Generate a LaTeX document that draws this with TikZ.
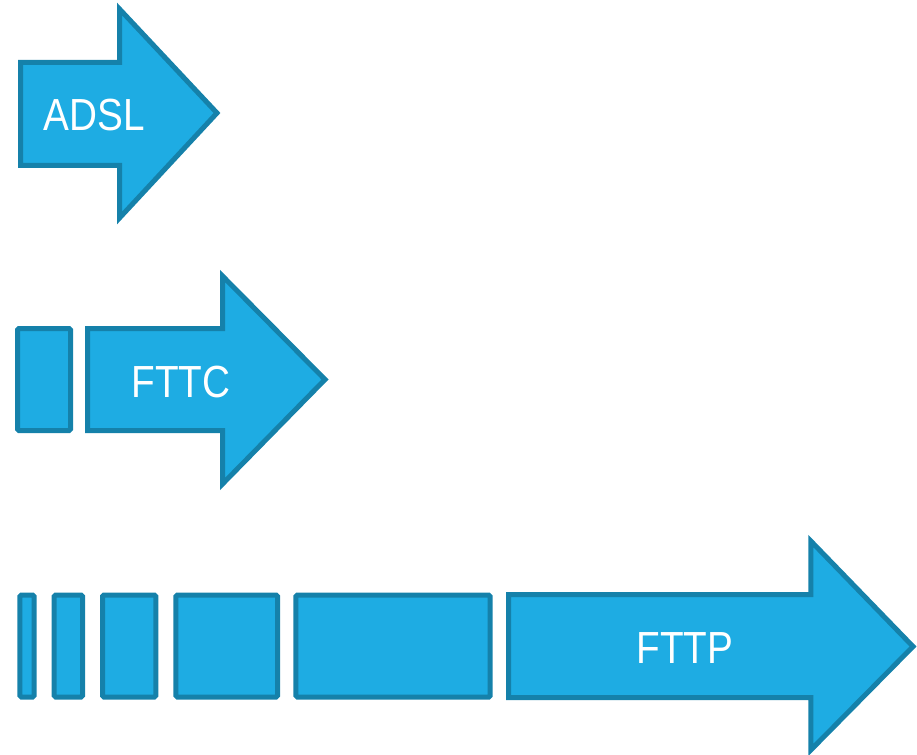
\documentclass[tikz,border=0pt]{standalone}
\usepackage{fontspec}
\setmainfont{Liberation Sans}
\usepackage{tikz}
\definecolor{linkfill}{RGB}{30, 172, 227}
\definecolor{linkedge}{RGB}{21, 129, 170}
% narrower lettering for the labels
\newcommand{\narrowtext}[1]{\scalebox{0.86}[1]{#1}}

\begin{document}
\begin{tikzpicture}[x=1pt, y=-1pt,
        % Shared look of every block and arrow
        block/.style={draw=linkedge, fill=linkfill, line width=5pt, rounded corners=1.5pt},
        arrowbody/.style={draw=linkedge, fill=linkfill, line width=5pt, line join=miter},
        label/.style={text=white, font=\fontsize{45}{45}\selectfont, inner sep=0pt}
    ]
    \useasboundingbox (0, 0) rectangle (917, 754);

    % ADSL: a single arrow
    \filldraw[arrowbody] (20.5, 62.5) -- (119.5, 62.5) -- (119.5, 9) -- (217, 113)
        -- (119.5, 218) -- (119.5, 165.5) -- (20.5, 165.5) -- cycle;
    \node[label] (adsl) at (94, 115) {\narrowtext{ADSL}};

    % FTTC: one block ahead of the arrow
    \filldraw[block] (17.5, 328.5) rectangle (70.5, 430.5);
    \filldraw[arrowbody] (87.5, 328.5) -- (222.5, 328.5) -- (222.5, 276) -- (325, 379.5)
        -- (222.5, 484) -- (222.5, 430.5) -- (87.5, 430.5) -- cycle;
    \node[label] (fttc) at (181, 382) {\narrowtext{FTTC}};

    % FTTP: growing blocks, then the long arrow
    \foreach \xa/\xb in {19.8/34.2, 54.2/82.5, 102.5/155.8, 175.8/277.5, 295.8/490.2} {
        \filldraw[block] (\xa, 595) rectangle (\xb, 697);
    }
    \filldraw[arrowbody] (508.5, 594.5) -- (810.8, 594.5) -- (810.8, 541) -- (913, 646.5)
        -- (810.8, 750) -- (810.8, 697.5) -- (508.5, 697.5) -- cycle;
    \node[label] (fttp) at (685, 648) {\narrowtext{FTTP}};

\end{tikzpicture}
\end{document}
